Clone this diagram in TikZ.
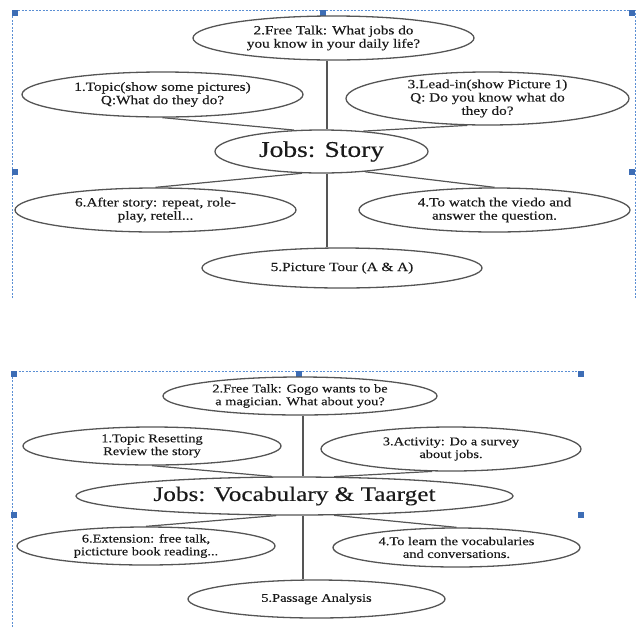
\documentclass[tikz,border=0pt]{standalone}
\usepackage{fontspec}
\setmainfont{Liberation Serif}[FakeStretch=1.22,FakeBold=0.3]
\usetikzlibrary{shapes.geometric}
\definecolor{selblue}{HTML}{5B8FD4}
\definecolor{handleblue}{HTML}{3D6DB5}
\definecolor{edgegray}{HTML}{555555}
\definecolor{inkc}{HTML}{1A1A1A}
\begin{document}
\begin{tikzpicture}[x=1pt,y=-1pt,
  bubble/.style={ellipse, draw=edgegray, line width=1.3pt, inner sep=0pt},
  txt/.style={align=center, text=inkc, inner sep=0pt},
  smalla/.style={font=\fontsize{12.5}{13.3}\selectfont},
  smallb/.style={font=\fontsize{11.8}{12.8}\selectfont},
  biga/.style={font=\fontsize{22.5}{24}\selectfont},
  bigb/.style={font=\fontsize{20.7}{22}\selectfont},
  link/.style={draw=edgegray, line width=1.2pt},
  sel/.style={draw=selblue, dash pattern=on 2pt off 1.5pt, line width=0.8pt},
  handle/.style={rectangle, fill=handleblue, minimum size=6pt, inner sep=0pt}
]
\useasboundingbox (0,0) rectangle (639,627);

% ---------- top selection frame ----------
\draw[sel] (12,298) -- (12,10) -- (635,10) -- (635,298);
\node[handle] (ha1) at (15,13) {};
\node[handle] (ha2) at (323,13) {};
\node[handle] (ha3) at (632,13) {};
\node[handle] (ha4) at (15,172) {};
\node[handle] (ha5) at (632,172) {};

% ---------- top diagram ----------
\node[bubble, minimum width=281pt, minimum height=44pt] (a2) at (333.5,38) {};
\node[txt, smalla] (ta2) at (a2.center) {2.Free Talk: What jobs do\\you know in your daily life?};
\node[bubble, minimum width=281pt, minimum height=45pt] (a1) at (162.5,94.5) {};
\node[txt, smalla] (ta1) at (a1.center) {1.Topic(show some pictures)\\Q:What do they do?};
\node[bubble, minimum width=283pt, minimum height=53pt] (a3) at (487.5,98.5) {};
\node[txt, smalla] (ta3) at (a3.center) {3.Lead-in(show Picture 1)\\Q: Do you know what do\\they do?};
\node[bubble, minimum width=213pt, minimum height=43pt] (c1) at (321.5,151.5) {};
\node[txt, biga] (tc1) at (c1.center) {Jobs: Story};
\node[bubble, minimum width=281pt, minimum height=44pt] (a6) at (155.5,210) {};
\node[txt, smalla] (ta6) at (a6.center) {6.After story: repeat, role-\\play, retell...};
\node[bubble, minimum width=271pt, minimum height=44pt] (a4) at (494.5,210) {};
\node[txt, smalla] (ta4) at (a4.center) {4.To watch the viedo and\\answer the question.};
\node[bubble, minimum width=280pt, minimum height=40pt] (a5) at (342,268) {};
\node[txt, smalla] (ta5) at (a5.center) {5.Picture Tour (A \& A)};

\coordinate (spinea) at (327,0);
\draw[link] (spinea |- a2.south) -- (spinea |- c1.north);
\draw[link] (spinea |- c1.south) -- (spinea |- a5.north);
\draw[link] (a1.south) -- (c1.142);
\draw[link] (c1.26) -- (a3.-127);
\draw[link] (c1.-132) -- (a6.north);
\draw[link] (c1.-25) -- (a4.north);

% ---------- bottom selection frame ----------
\draw[sel] (12,627) -- (12,371) -- (583,371);
\node[handle] (hb1) at (14,374) {};
\node[handle] (hb2) at (299,374) {};
\node[handle] (hb3) at (581,374) {};
\node[handle] (hb4) at (14,515) {};
\node[handle] (hb5) at (581,515) {};

% ---------- bottom diagram ----------
\node[bubble, minimum width=274pt, minimum height=38pt] (b2) at (300,396) {};
\node[txt, smallb] (tb2) at (b2.center) {2.Free Talk: Gogo wants to be\\a magician. What about you?};
\node[bubble, minimum width=258pt, minimum height=38pt] (b1) at (152,446) {};
\node[txt, smallb] (tb1) at (b1.center) {1.Topic Resetting\\Review the story};
\node[bubble, minimum width=260pt, minimum height=44pt] (b3) at (451,449) {};
\node[txt, smallb] (tb3) at (b3.center) {3.Activity: Do a survey\\about jobs.};
\node[bubble, minimum width=437pt, minimum height=38pt] (c2) at (294.5,496) {};
\node[txt, bigb] (tc2) at (c2.center) {Jobs: Vocabulary \& Taarget};
\node[bubble, minimum width=258pt, minimum height=38pt] (b6) at (146,546) {};
\node[txt, smallb] (tb6) at (b6.center) {6.Extension: free talk,\\picticture book reading...};
\node[bubble, minimum width=247pt, minimum height=39pt] (b4) at (456.5,547.5) {};
\node[txt, smallb] (tb4) at (b4.center) {4.To learn the vocabularies\\and conversations.};
\node[bubble, minimum width=257pt, minimum height=38pt] (b5) at (316.5,599) {};
\node[txt, smallb] (tb5) at (b5.center) {5.Passage Analysis};

\coordinate (spineb) at (303,0);
\draw[link] (spineb |- b2.south) -- (spineb |- c2.north);
\draw[link] (spineb |- c2.south) -- (spineb |- b5.north);
\draw[link] (b1.south) -- (c2.139);
\draw[link] (c2.26) -- (b3.-130);
\draw[link] (c2.-133) -- (b6.north);
\draw[link] (c2.-26) -- (b4.north);
\end{tikzpicture}
\end{document}
